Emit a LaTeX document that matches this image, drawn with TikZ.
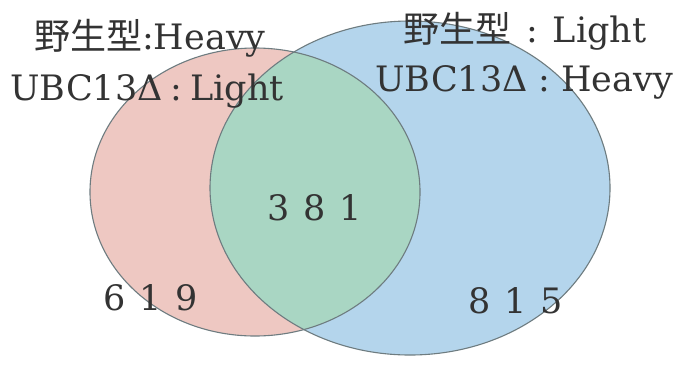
\documentclass[tikz,border=0pt]{standalone}
\usepackage{fontspec}
\setmainfont{DejaVu Serif}
\newfontfamily\cjk{Noto Sans CJK JP}
\definecolor{pinkfill}{HTML}{EEC8C2}
\definecolor{bluefill}{HTML}{B4D5EC}
\definecolor{greenfill}{HTML}{A9D6C3}
\definecolor{edge}{HTML}{6E7C80}
\definecolor{txt}{HTML}{333333}
\begin{document}
\begin{tikzpicture}[x=1pt,y=-1pt,
  lbl/.style={inner sep=0pt, anchor=base west, text=txt, font=\fontsize{35}{40}\selectfont},
  num/.style={inner sep=0pt, anchor=base west, text=txt, font=\fontsize{35}{40}\selectfont},
  outline/.style={draw=edge, line width=1.1pt}]
\newcommand\kj[1]{{\fontsize{36}{40}\cjk #1}}
\useasboundingbox (0,0) rectangle (676,365);
\fill[white] (0,0) rectangle (676,365);
\fill[pinkfill] (255,192) ellipse [x radius=165, y radius=144];
\fill[bluefill] (410,188) ellipse [x radius=200, y radius=167];
\begin{scope}
  \clip (255,192) ellipse [x radius=165, y radius=144];
  \fill[greenfill] (410,188) ellipse [x radius=200, y radius=167];
\end{scope}
\draw[outline] (255,192) ellipse [x radius=165, y radius=144];
\draw[outline] (410,188) ellipse [x radius=200, y radius=167];
\node[lbl] (L1) at (34,49) {\kj{野生型}:Heavy};
\node[lbl] (L2) at (10,100) {UBC13Δ\hspace{8pt}:\hspace{8pt}Light};
\node[lbl] (R1) at (403,42) {\kj{野生型}\hspace{15pt}:\hspace{15pt}Light};
\node[lbl] (R2) at (375,91) {UBC13Δ\hspace{11pt}:\hspace{11pt}Heavy};
\node[num] (n381) at (267,220) {3\hspace{14pt}8\hspace{14pt}1};
\node[num] (n619) at (103,310) {6\hspace{14pt}1\hspace{14pt}9};
\node[num] (n815) at (468,313) {8\hspace{14pt}1\hspace{14pt}5};
\end{tikzpicture}
\end{document}
